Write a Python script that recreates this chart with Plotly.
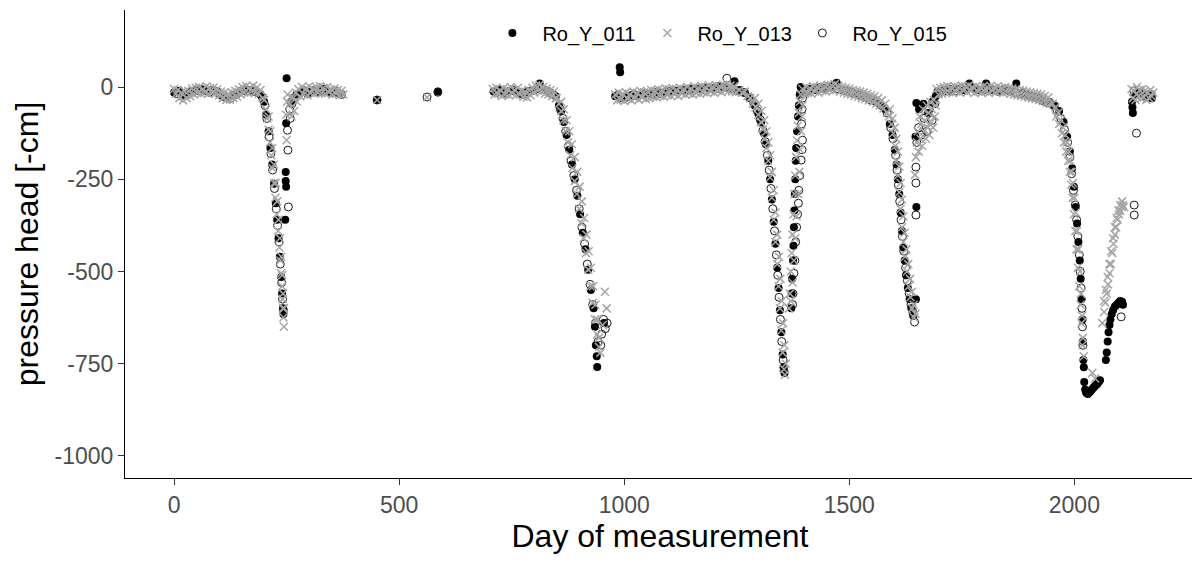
import plotly.graph_objects as go

SERIES = ["Ro_Y_011", "Ro_Y_013", "Ro_Y_015"]
X_TICKS = [0, 500, 1000, 1500, 2000]
Y_TICKS = [-1000, -750, -500, -250, 0]
Y_TICK_TEXT = ["-1000", "-750", "-500", "-250", "0"]

# (day, pressure head)
RO_Y_011 = [
    (0, -15), (12, -10), (24, -22), (36, -12), (48, -8), (60, -6), (72, -10), (84, -8), (96, -12), (108, -25),
    (120, -30), (132, -22), (144, -15), (156, -10), (168, -8), (180, -12), (192, -20),
    (200, -40), (205, -75), (210, -120), (214, -165), (218, -210), (222, -262), (226, -315), (229, -360),
    (232, -410), (235, -460), (238, -515), (240, -560), (242, -600), (243, -615),
    (250, 24), (249, -98), (248, -230), (248, -255), (249, -270), (247, -360),
    (260, -40), (272, -20), (284, -12), (296, -18), (308, -10), (320, -15), (332, -5), (344, -12), (356, -15), (368, -18),
    (451, -35), (586, -12),
    (710, -12), (722, -8), (734, -15), (746, -10), (758, -12), (770, -18), (782, -15), (794, -10), (806, -5), (812, 10),
    (824, -8), (836, -15), (848, -25),
    (855, -50), (860, -65), (866, -95), (872, -130), (878, -170), (884, -210), (890, -250), (896, -295), (902, -345),
    (908, -395), (914, -440), (920, -495), (926, -550), (932, -600), (935, -650), (937, -700), (939, -730), (940, -759),
    (955, -640),
    (980, -25), (990, 54), (991, 40), (992, -30), (1004, -28), (1016, -22), (1028, -25), (1040, -20), (1052, -18),
    (1064, -20), (1076, -15), (1088, -15), (1100, -12), (1112, -10), (1124, -8), (1136, -10), (1148, -5), (1160, -6),
    (1172, -4), (1184, -2), (1196, -5), (1208, 2), (1220, 0), (1232, -4), (1245, 16), (1256, -8),
    (1268, -15), (1280, -30), (1290, -50), (1298, -72), (1304, -95), (1310, -125), (1315, -155), (1320, -200),
    (1324, -250), (1328, -305), (1332, -365), (1336, -425), (1340, -490), (1343, -545), (1346, -605), (1349, -665),
    (1352, -725), (1354, -760), (1356, -775),
    (1371, -600), (1372, -560), (1373, -520), (1375, -470), (1376, -430), (1377, -380), (1378, -335), (1379, -290),
    (1380, -250), (1381, -200), (1382, -165), (1384, -120), (1386, -80), (1388, -50), (1390, -20), (1392, 0),
    (1400, -10), (1412, -5), (1424, -8), (1436, 0), (1448, -5), (1460, 2), (1472, 12), (1484, -8), (1496, -10),
    (1508, -15), (1520, -20), (1532, -25), (1544, -30), (1556, -38), (1568, -45), (1580, -60),
    (1590, -100), (1596, -130), (1601, -170), (1605, -210), (1608, -250), (1611, -290), (1614, -340), (1617, -390),
    (1620, -435), (1623, -470), (1626, -510), (1630, -545), (1634, -575), (1638, -600), (1642, -620), (1648, -575),
    (1649, -43), (1649, -325), (1647, -135), (1655, -60), (1665, -45), (1675, -70), (1685, -40), (1692, -25),
    (1696, -12), (1710, -8), (1725, -10), (1740, -5), (1755, -8), (1767, 10), (1780, -6), (1792, -10), (1804, 10),
    (1816, -5), (1830, -10), (1845, -8), (1858, -12), (1871, 10), (1884, -15), (1896, -20), (1908, -25), (1920, -28),
    (1932, -35), (1944, -40),
    (1956, -50), (1966, -65), (1976, -95), (1984, -135), (1990, -175), (1995, -220), (1999, -270), (2003, -325),
    (2006, -370), (2009, -420), (2012, -470), (2014, -520), (2016, -575), (2018, -630), (2019, -690), (2020, -740),
    (2021, -760),
    (2022, -800), (2024, -820), (2026, -828), (2028, -830), (2030, -832), (2033, -828), (2036, -825), (2039, -820),
    (2042, -815), (2045, -812), (2048, -808), (2051, -805), (2054, -800), (2057, -795),
    (2070, -740), (2072, -720), (2074, -690), (2076, -665), (2078, -645), (2080, -630), (2083, -615), (2086, -605),
    (2090, -595), (2094, -590), (2098, -585), (2102, -580), (2106, -582), (2108, -590),
    (2128, -40), (2129, -55), (2130, -70), (2135, -20), (2145, -15), (2155, -25), (2165, -20), (2172, -30),
]

RO_Y_013 = [
    (0, -5), (4, -18), (8, -8), (12, -30), (16, -15), (20, -36), (24, -12), (28, -30), (32, -10), (36, -25),
    (40, -4), (44, -20), (48, -2), (52, -16), (56, 0), (60, -18), (64, -5), (68, -14), (72, 2), (76, -18),
    (80, -3), (84, -15), (88, -1), (92, -18), (96, -6), (100, -22), (104, -12), (108, -30), (112, -15), (116, -35),
    (120, -18), (124, -34), (128, -14), (132, -30), (136, -10), (140, -26), (144, -6), (148, -20), (152, 0),
    (156, -15), (160, 3), (164, -16), (168, -2), (172, -12), (176, 4), (180, -15), (184, -1), (188, -18), (192, -8),
    # first dip, centre and right edge of the band
    (197, -30), (200, -35), (204, -60), (207, -85), (210, -115), (213, -150), (216, -185), (219, -220), (222, -260),
    (225, -300), (228, -345), (231, -390), (234, -435), (236, -470), (238, -505), (240, -540), (241, -575),
    (242, -600), (243, -625), (244, -650),
    (210, -80), (214, -120), (218, -165), (222, -210), (226, -260), (229, -310), (232, -360), (235, -410),
    (238, -460), (240, -510), (242, -560), (244, -600),
    (250, -144), (251, -40), (252, -20), (249, -75),
    (258, -45), (261, -80), (264, -30), (267, -65), (270, -15), (273, -40), (276, -5), (280, -25), (284, 0),
    (288, -20), (292, -5), (296, -22), (300, 2), (304, -16), (308, -4), (312, -18), (316, 0), (320, -15), (324, 3),
    (328, -16), (332, -2), (336, -18), (340, 0), (344, -14), (348, -6), (352, -20), (356, -4), (360, -18),
    (364, -8), (368, -22), (372, -10), (376, -20),
    (451, -35), (562, -28),
    (708, -5), (712, -20), (716, -2), (720, -18), (724, -8), (728, -24), (732, -3), (736, -20), (740, -6),
    (744, -22), (748, 0), (752, -16), (756, -8), (760, -22), (764, -2), (768, -20), (772, -10), (776, -26),
    (780, -12), (784, -28), (788, -8), (792, -22), (796, -2), (800, -15), (804, 4), (808, -10), (812, 6),
    (816, -12), (820, 0), (824, -18), (828, -4), (832, -20), (836, -8), (840, -25), (844, -12), (848, -30),
    # second dip
    (850, -30), (855, -45), (860, -65), (865, -90), (870, -120), (875, -150), (880, -185), (885, -220), (890, -255),
    (895, -290), (900, -330), (905, -370), (910, -410), (915, -450), (920, -495), (925, -540), (930, -585),
    (935, -630), (940, -670), (944, -705),
    (860, -40), (866, -60), (872, -90), (878, -120), (884, -155), (890, -190), (896, -230), (901, -270),
    (906, -310), (911, -355), (916, -400), (921, -445), (926, -490), (931, -540), (936, -590), (940, -630),
    (944, -680), (947, -720),
    (957, -555), (961, -600), (952, -645),
    (980, -20), (984, -36), (988, -15), (992, -34), (996, -18), (1000, -38), (1004, -14), (1008, -32), (1012, -20),
    (1016, -36), (1020, -12), (1024, -30), (1028, -16), (1032, -34), (1036, -10), (1040, -28), (1044, -14),
    (1048, -32), (1052, -12), (1056, -30), (1060, -8), (1064, -26), (1068, -10), (1072, -28), (1076, -6),
    (1080, -24), (1084, -8), (1088, -26), (1092, -4), (1096, -22), (1100, -6), (1104, -24), (1108, -3),
    (1112, -20), (1116, -7), (1120, -24), (1124, -2), (1128, -18), (1132, -5), (1136, -20), (1140, 0),
    (1144, -18), (1148, -4), (1152, -20), (1156, 2), (1160, -16), (1164, -2), (1168, -18), (1172, 3),
    (1176, -14), (1180, 0), (1184, -16), (1188, 4), (1192, -12), (1196, 1), (1200, -15), (1204, 5), (1208, -10),
    (1212, 2), (1216, -14), (1220, 6), (1224, -8), (1228, 8), (1232, -10), (1236, 4), (1240, -12), (1244, 2),
    (1248, -14),
    # third dip
    (1256, -8), (1262, -15), (1268, -12), (1274, -25), (1280, -30), (1286, -45), (1292, -55), (1298, -75),
    (1304, -95), (1308, -115), (1312, -140), (1316, -165), (1320, -200), (1324, -245), (1328, -300), (1332, -360),
    (1336, -420), (1340, -480), (1343, -540), (1346, -600), (1349, -660), (1352, -720), (1355, -765), (1357, -780),
    (1290, -30), (1298, -45), (1305, -65), (1311, -90), (1316, -120), (1320, -150), (1324, -185), (1328, -230),
    (1332, -280), (1336, -340), (1340, -400), (1344, -460), (1347, -520), (1350, -580), (1353, -640), (1356, -700),
    (1359, -750),
    (1366, -600), (1368, -560), (1370, -500), (1372, -450), (1374, -400), (1376, -345), (1378, -290), (1380, -240),
    (1382, -190), (1384, -145), (1386, -105), (1388, -70), (1390, -40), (1392, -20),
    (1370, -580), (1374, -530), (1377, -470), (1380, -410), (1383, -350), (1386, -290), (1389, -230), (1391, -170),
    (1393, -120), (1395, -80), (1396, -50),
    (1396, -5), (1400, -18), (1404, 0), (1408, -15), (1412, -3), (1416, -18), (1420, 2), (1424, -12), (1428, 0),
    (1432, -15), (1436, 4), (1440, -10), (1444, 2), (1448, -12), (1452, 6), (1456, -8), (1460, 5), (1464, -10),
    (1468, 8), (1472, -6), (1476, 3), (1480, -12), (1484, 0), (1488, -15), (1492, -2), (1496, -18), (1500, -4),
    (1504, -20), (1508, -8), (1512, -24), (1516, -10), (1520, -26), (1524, -12), (1528, -30), (1532, -15),
    (1536, -32), (1540, -18), (1544, -36), (1548, -22), (1552, -40), (1556, -25), (1560, -45), (1564, -30),
    (1568, -50), (1572, -36), (1576, -58), (1580, -45), (1584, -70),
    # fourth dip
    (1588, -80), (1594, -100), (1598, -125), (1602, -160), (1605, -200), (1608, -240), (1611, -285), (1614, -330),
    (1617, -380), (1620, -420), (1624, -460), (1628, -500), (1632, -540), (1636, -570), (1640, -600), (1644, -625),
    (1590, -60), (1596, -85), (1601, -110), (1605, -140), (1608, -175), (1611, -215), (1614, -260), (1617, -305),
    (1620, -350), (1623, -395), (1627, -440), (1631, -480), (1635, -520), (1639, -555), (1643, -590), (1647, -615),
    (1646, -238), (1648, -190), (1650, -150), (1652, -120), (1654, -175), (1656, -80), (1658, -140), (1660, -100),
    (1662, -160), (1664, -60), (1666, -120), (1668, -90), (1670, -140), (1672, -50), (1674, -110), (1676, -70),
    (1678, -130), (1680, -40), (1682, -95), (1684, -60), (1686, -110), (1688, -35), (1690, -80), (1692, -50),
    (1694, -5), (1698, -20), (1702, -2), (1706, -18), (1710, 0), (1714, -15), (1718, 3), (1722, -14), (1726, -2),
    (1730, -16), (1734, 2), (1738, -12), (1742, 0), (1746, -15), (1750, 4), (1754, -10), (1758, 1), (1762, -14),
    (1766, 5), (1770, -10), (1774, 0), (1778, -16), (1782, 3), (1786, -12), (1790, -1), (1794, -15), (1798, 2),
    (1802, -12), (1806, 0), (1810, -16), (1814, 3), (1818, -10), (1822, -1), (1826, -14), (1830, 2), (1834, -12),
    (1838, -3), (1842, -16), (1846, 0), (1850, -14), (1854, -2), (1858, -18), (1862, -4), (1866, -20), (1870, -6),
    (1874, -22), (1878, -8), (1882, -24), (1886, -10), (1890, -26), (1894, -12), (1898, -28), (1902, -14),
    (1906, -30), (1910, -16), (1914, -32), (1918, -18), (1922, -35), (1926, -20), (1930, -38), (1934, -24),
    (1938, -42), (1942, -28), (1946, -45),
    # fifth dip
    (1952, -45), (1958, -55), (1964, -70), (1970, -90), (1975, -110), (1980, -130), (1984, -150), (1988, -175),
    (1991, -200), (1994, -230), (1997, -260), (2000, -300), (2003, -340), (2006, -390), (2009, -440), (2012, -500),
    (2015, -560), (2017, -620), (2019, -680), (2021, -730), (2040, -775), (2046, -790),
    (1960, -80), (1966, -100), (1972, -125), (1977, -150), (1982, -175), (1986, -200), (1990, -230), (1993, -265),
    (1996, -300), (1999, -345), (2002, -390), (2005, -440), (2008, -490), (2011, -540), (2014, -590), (2016, -640),
    (2018, -700),
    (2062, -640), (2066, -610), (2069, -585), (2072, -560), (2075, -535), (2078, -505), (2081, -480), (2084, -450),
    (2087, -425), (2090, -400), (2093, -380), (2096, -360), (2099, -345), (2102, -335), (2105, -325), (2108, -320),
    (2066, -580), (2070, -550), (2074, -515), (2078, -480), (2082, -445), (2086, -410), (2090, -380), (2094, -355),
    (2098, -335), (2102, -320), (2106, -310), (2110, -325),
    (2127, -5), (2130, -30), (2133, -10), (2136, -35), (2139, 0), (2142, -25), (2145, -8), (2148, -30),
    (2151, -5), (2154, -28), (2157, -10), (2160, -35), (2163, -15), (2166, -30), (2169, -8), (2172, -25),
    (2175, -15),
]

RO_Y_015 = [
    (6, -18), (18, -25), (30, -20), (42, -12), (54, -10), (66, -8), (78, -14), (90, -10), (102, -20), (114, -28),
    (126, -30), (138, -20), (150, -10), (162, -8), (174, -12), (186, -15), (196, -28),
    (202, -50), (206, -85), (211, -135), (215, -180), (219, -225), (223, -275), (227, -330), (230, -375),
    (233, -420), (236, -480), (239, -530), (241, -575), (243, -605),
    (252, -117), (253, -171), (254, -325), (257, -60), (262, -45), (258, -85),
    (266, -30), (278, -18), (290, -10), (302, -15), (314, -8), (326, -12), (338, -10), (350, -15), (362, -12), (372, -20),
    (451, -35), (562, -27), (586, -14),
    (716, -15), (728, -12), (740, -18), (752, -8), (764, -14), (776, -20), (788, -12), (800, -8), (818, -5),
    (830, -12), (842, -20),
    (858, -60), (864, -85), (870, -120), (876, -160), (882, -200), (888, -240), (894, -280), (900, -330),
    (906, -380), (912, -425), (918, -480), (924, -535), (930, -590), (936, -640), (942, -690),
    (948, -700), (950, -670), (954, -630), (958, -655), (962, -640),
    (986, -22), (998, -30), (1010, -25), (1022, -20), (1034, -22), (1046, -18), (1058, -20), (1070, -15),
    (1082, -18), (1094, -12), (1106, -10), (1118, -12), (1130, -8), (1142, -6), (1154, -10), (1166, -5),
    (1178, -8), (1190, -4), (1202, -2), (1214, -6), (1228, 24), (1240, -5), (1252, -10),
    (1266, -15), (1278, -28), (1288, -45), (1296, -65), (1302, -88), (1308, -118), (1313, -148), (1318, -185),
    (1322, -225), (1326, -275), (1330, -330), (1334, -390), (1338, -455), (1341, -510), (1344, -570), (1347, -630),
    (1350, -690), (1353, -740), (1355, -770),
    (1374, -590), (1375, -560), (1377, -505), (1379, -470), (1381, -420), (1383, -380), (1385, -345), (1387, -315),
    (1388, -280), (1390, -240), (1393, -198), (1395, -170), (1396, -144), (1394, -100), (1395, -60), (1396, -30),
    (1404, -12), (1416, -8), (1428, -5), (1440, -3), (1452, 0), (1464, 2), (1476, -5), (1488, -10), (1500, -12),
    (1512, -18), (1524, -22), (1536, -28), (1548, -35), (1560, -40), (1572, -50), (1584, -70),
    (1592, -110), (1597, -140), (1603, -185), (1606, -225), (1609, -265), (1612, -310), (1615, -360), (1618, -405),
    (1621, -445), (1625, -490), (1629, -525), (1633, -560), (1637, -590), (1641, -610), (1645, -637),
    (1648, -217), (1648, -260), (1648, -347), (1650, -150), (1654, -110), (1660, -130), (1666, -85), (1672, -120),
    (1678, -60), (1684, -90), (1690, -45),
    (1700, -15), (1712, -10), (1724, -6), (1736, -10), (1748, -4), (1760, -8), (1772, -2), (1784, -6), (1796, -10),
    (1808, -4), (1820, -8), (1832, -12), (1844, -6), (1856, -10), (1868, -14), (1880, -18), (1892, -22),
    (1904, -26), (1916, -30), (1928, -36), (1940, -42),
    (1954, -50), (1962, -65), (1970, -85), (1978, -115), (1985, -150), (1990, -190), (1994, -235), (1998, -280),
    (2002, -320), (2005, -360), (2008, -405), (2011, -455), (2013, -500), (2015, -545), (2017, -600), (2018, -650),
    (2019, -700),
    (2104, -623), (2133, -320), (2133, -347), (2138, -125),
    (2132, -10), (2140, -20), (2150, -15), (2160, -25), (2170, -20),
]

STYLE = {
    "Ro_Y_011": dict(symbol="circle", size=8, color="black", line=dict(width=0)),
    "Ro_Y_013": dict(symbol="x-thin", size=8, color="#A6A6A6", line=dict(width=1.5, color="#A6A6A6")),
    "Ro_Y_015": dict(symbol="circle-open", size=8, color="#1A1A1A", line=dict(width=1, color="#1A1A1A")),
}
DATA = {"Ro_Y_011": RO_Y_011, "Ro_Y_013": RO_Y_013, "Ro_Y_015": RO_Y_015}
RANK = {"Ro_Y_011": 1, "Ro_Y_013": 2, "Ro_Y_015": 3}

fig = go.Figure()
for name in ["Ro_Y_011", "Ro_Y_015", "Ro_Y_013"]:
    pts = DATA[name]
    fig.add_trace(go.Scatter(
        x=[p[0] for p in pts], y=[p[1] for p in pts], mode="markers", name=name,
        marker=STYLE[name], legendrank=RANK[name], cliponaxis=False,
    ))

FONT = "Liberation Sans, Arial, sans-serif"
axis_common = dict(
    showgrid=False, zeroline=False, showline=True, linecolor="black", linewidth=1,
    ticks="outside", ticklen=6, tickwidth=1, tickcolor="#333333",
    tickfont=dict(family=FONT, size=23, color="#4D4D4D"), automargin=False,
)
fig.update_xaxes(range=[-109, 2268], tickvals=X_TICKS,
                 title=dict(text="Day of measurement", font=dict(family=FONT, size=32, color="black"), standoff=4),
                 **axis_common)
fig.update_yaxes(range=[-1060, 209], tickvals=Y_TICKS, ticktext=Y_TICK_TEXT,
                 title=dict(text="pressure head [-cm]", font=dict(family=FONT, size=32, color="black"), standoff=6),
                 **axis_common)

# page body has an 8px margin: the figure is sized so the plot lands where the reference has it
fig.update_layout(
    width=1192, height=555,
    margin=dict(l=117, r=5, t=2, b=85),
    plot_bgcolor="white", paper_bgcolor="white",
    font=dict(family=FONT),
    legend=dict(orientation="h", x=0.334, xanchor="left", y=0.951, yanchor="middle",
                font=dict(family=FONT, size=20, color="black"),
                itemwidth=50, entrywidth=90, entrywidthmode="pixels", bgcolor="rgba(0,0,0,0)",
                traceorder="normal"),
)

fig.write_html("out.html")
